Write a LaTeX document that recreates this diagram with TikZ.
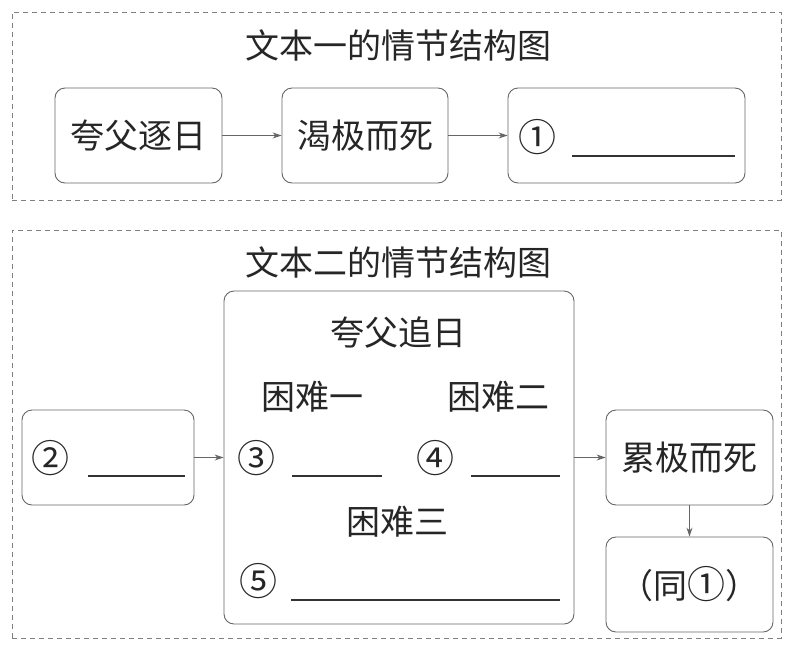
\documentclass[tikz,border=0pt]{standalone}
\usepackage{fontspec}
\setmainfont{Noto Sans CJK SC}
\usetikzlibrary{arrows.meta}
\newcommand{\circnum}[1]{{\fontsize{38}{38}\selectfont #1}}
\tikzset{
 box/.style={draw=black!60, line width=0.9pt, rounded corners=10pt, inner sep=0pt},
 dbox/.style={draw=black!50, dash pattern=on 5pt off 4pt, line width=0.7pt, inner sep=0pt},
 arr/.style={draw=black!60, line width=0.9pt, -{Stealth[length=9pt,width=6pt]}},
 txt/.style={font=\fontsize{34}{38}\selectfont, inner sep=0pt, text=black!85},
 blank/.style={draw=black!80, line width=1.2pt},
}
\begin{document}
\begin{tikzpicture}[x=1pt,y=-1pt]
\useasboundingbox (0,0) rectangle (793,649);
\fill[white] (0,0) rectangle (793,649);
% frames
\node[dbox, minimum width=769, minimum height=188] (f1) at (396.5,106) {};
\node[dbox, minimum width=769, minimum height=408] (f2) at (396.5,434) {};
% text one
\node[txt] (t1) at (398,45) {文本一的情节结构图};
\node[box, txt, minimum width=167, minimum height=95] (a1) at (138.5,135.5) {夸父逐日};
\node[box, txt, minimum width=166, minimum height=95] (a2) at (365,135.5) {渴极而死};
\node[box, minimum width=237, minimum height=95] (a3) at (626.5,135.5) {};
\node[txt] (c1) at (537,137) {\circnum{①}};
\draw[blank] (572,156) -- (735,156);
\draw[arr] (a1) -- (a2);
\draw[arr] (a2) -- (a3);
% text two
\node[txt] (t2) at (398,262) {文本二的情节结构图};
\node[box, minimum width=350, minimum height=333] (B) at (399,457.5) {};
\node[txt] (b0) at (398,333) {夸父追日};
\node[txt] (k1) at (312,397) {困难一};
\node[txt] (k2) at (498,397) {困难二};
\node[txt] (c3) at (256,458) {\circnum{③}};
\draw[blank] (292,476) -- (382,476);
\node[txt] (c4) at (435,458) {\circnum{④}};
\draw[blank] (471,476) -- (560,476);
\node[txt] (k3) at (397,522) {困难三};
\node[txt] (c5) at (258,581) {\circnum{⑤}};
\draw[blank] (291,600) -- (560,600);
\node[box, minimum width=172, minimum height=95] (L) at (108,457.5) {};
\node[txt] (c2) at (50,458) {\circnum{②}};
\draw[blank] (88,476) -- (185,476);
\node[box, txt, minimum width=167, minimum height=95] (R) at (689.5,457.5) {累极而死};
\node[box, txt, minimum width=167, minimum height=95] (S) at (689.5,584.5) {（同\circnum{①}）};
\draw[arr] (L) -- (B);
\draw[arr] (B.east |- R.west) -- (R.west);
\draw[arr] (R) -- (S);
\end{tikzpicture}
\end{document}
